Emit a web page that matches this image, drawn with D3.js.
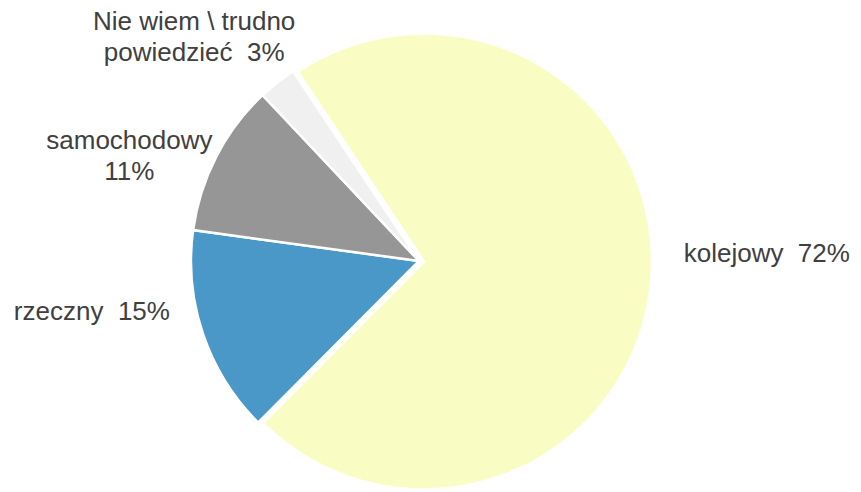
<!DOCTYPE html>
<html>
<head>
<meta charset="utf-8">
<script src="https://d3js.org/d3.v7.min.js"></script>
<style>
  body { margin: 0; background: #fff; }
  text { font-family: "Liberation Sans", Arial, sans-serif; font-size: 26px; fill: #404040; white-space: pre; }
  path { stroke: #fff; stroke-width: 2.5; }
</style>
</head>
<body>
<svg width="861" height="492"></svg>
<script>
// data
var categories = ["kolejowy", "rzeczny", "samochodowy", "Nie wiem \\ trudno\npowiedzieć"];
var values = [71.8, 14.7, 10.8, 2.7];
var colors = ["#FAFDC3", "#4A98C7", "#969696", "#F0F0F0"];

// layout
var cx = 419, cy = 261, radius = 228, explode = [5, 0, 0, 0];
var startDeg = -33.6;
var labelSep = ["  ", "  ", "\n", "  "];
var labelAnchor = ["start", "end", "middle", "middle"];
var labelNudge = [[-4, -35], [2, -35], [-54, 16], [-60, -17]];
var lineHeight = 31.5;

var svg = d3.select("svg");
var g = svg.append("g").attr("transform", "translate(" + cx + "," + cy + ")");

var a0 = startDeg * Math.PI / 180;
var pie = d3.pie().sort(null).startAngle(a0).endAngle(a0 + 2 * Math.PI);
var arcs = pie(values);

var arc = d3.arc().innerRadius(0).outerRadius(radius);
var labelArc = d3.arc().innerRadius(265).outerRadius(265);

function shift(d, i) {
  var m = (d.startAngle + d.endAngle) / 2;
  return [Math.sin(m) * explode[i], -Math.cos(m) * explode[i]];
}

g.selectAll("path")
  .data(arcs)
  .enter()
  .append("path")
  .attr("d", arc)
  .attr("fill", function(d, i) { return colors[i]; })
  .attr("transform", function(d, i) { return "translate(" + shift(d, i) + ")"; });

var fmt = function(v) { return Math.round(v) + "%"; };

var labels = g.selectAll("text.label")
  .data(arcs)
  .enter()
  .append("text")
  .attr("class", "label")
  .attr("text-anchor", function(d, i) { return labelAnchor[i]; })
  .attr("transform", function(d, i) {
    var c = labelArc.centroid(d), s = shift(d, i);
    return "translate(" + (c[0] + s[0] + labelNudge[i][0]) + "," + (c[1] + s[1] + labelNudge[i][1]) + ")";
  });

labels.each(function(d, i) {
  var lines = (categories[i] + labelSep[i] + fmt(values[i])).split("\n");
  var t = d3.select(this);
  lines.forEach(function(line, k) {
    t.append("tspan")
      .attr("x", 0)
      .attr("y", (k - (lines.length - 1) / 2) * lineHeight)
      .attr("dominant-baseline", "central")
      .text(line);
  });
});
</script>
</body>
</html>
